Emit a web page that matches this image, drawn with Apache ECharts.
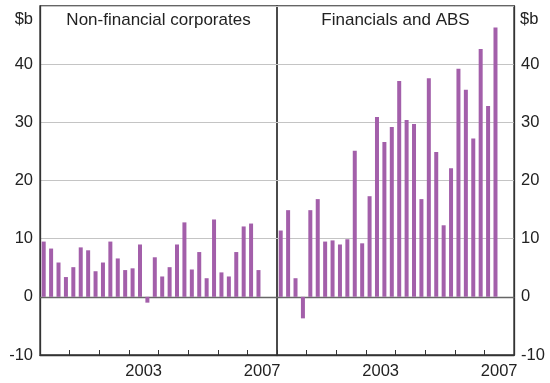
<!DOCTYPE html>
<html><head><meta charset="utf-8">
<script src="https://cdn.jsdelivr.net/npm/echarts@6/dist/echarts.min.js"></script>
<style>html,body{margin:0;padding:0;background:#fff}#c{width:550px;height:383px}</style>
</head><body><div id="c"></div>
<script>
const years = ['2000','2001','2002','2003','2004','2005','2006','2007'];
const yearLabels = ['2003','2007'];
const quarters = [];
years.forEach(y => ['Q1','Q2','Q3','Q4'].forEach(q => quarters.push(y + q)));
const nonFinancial = [9.5,8.3,5.9,3.4,5.1,8.5,8.0,4.4,5.9,9.5,6.6,4.6,4.9,9.0,-1.0,6.8,3.5,5.1,9.0,12.8,4.7,7.7,3.2,13.3,4.2,3.5,7.7,12.1,12.6,4.6];
const financialsABS = [11.4,14.9,3.2,-3.7,14.9,16.8,9.5,9.7,9.0,9.9,25.1,9.2,17.3,30.9,26.6,29.2,37.1,30.4,29.7,16.8,37.6,24.9,12.3,22.1,39.2,35.6,27.2,42.6,32.8,46.3];
const panelTitles = ['Non-financial corporates','Financials and ABS'];
const unit = '$b';

const FONT = 'Liberation Sans, Arial, sans-serif';
const TXT = '#222';
const BAR = '#A35FAA';
const FS = 16.5;

function yAx(gi, pos) {
  return {
    type:'value', gridIndex:gi, position:pos, min:-10, max:50, interval:10,
    axisLine:{show:true, lineStyle:{color:'#333', width:1.3}},
    axisTick:{show:false},
    axisLabel:{color:TXT, fontFamily:FONT, fontSize:FS, margin:7,
      formatter:v => v === 50 ? '' : String(v)},
    splitLine:{show:true, lineStyle:{color:'#c4c4c4', width:1}}
  };
}
function qAx(gi) {
  return {type:'category', gridIndex:gi, data:quarters, boundaryGap:true,
    axisLine:{show:true, onZero:true, lineStyle:{color:'#666', width:1.3}},
    axisTick:{show:false}, axisLabel:{show:false}, splitLine:{show:false}};
}
function yrAx(gi) {
  return {type:'category', gridIndex:gi, data:years, boundaryGap:true, position:'bottom',
    axisLine:{show:true, onZero:false, lineStyle:{color:'#333', width:1.3}},
    axisTick:{show:true, inside:true, length:5, lineStyle:{color:'#333', width:1}},
    axisLabel:{color:TXT, fontFamily:FONT, fontSize:FS, margin:8, interval:0,
      formatter:v => yearLabels.includes(v) ? v : ''},
    splitLine:{show:false}};
}

const chart = echarts.init(document.getElementById('c'), null, {renderer:'canvas'});
chart.setOption({
  animation:false,
  backgroundColor:'#fff',
  grid:[
    {left:40, right:273, top:6, bottom:28, show:true, borderColor:'#333', borderWidth:1.3, backgroundColor:'transparent'},
    {left:277, right:36, top:6, bottom:28, show:true, borderColor:'#333', borderWidth:1.3, backgroundColor:'transparent'}
  ],
  xAxis:[qAx(0), yrAx(0), qAx(1), yrAx(1)],
  yAxis:[yAx(0,'left'), yAx(1,'right')],
  series:[
    {type:'bar', xAxisIndex:0, yAxisIndex:0, data:nonFinancial, barWidth:4, itemStyle:{color:BAR}},
    {type:'bar', xAxisIndex:2, yAxisIndex:1, data:financialsABS, barWidth:4, itemStyle:{color:BAR}}
  ],
  graphic:[
    {type:'text', style:{text:panelTitles[0], font:'17px '+FONT, fill:TXT, textAlign:'center', textVerticalAlign:'middle'}, x:158.5, y:20},
    {type:'text', style:{text:panelTitles[1], font:'17px '+FONT, fill:TXT, textAlign:'center', textVerticalAlign:'middle'}, x:395.5, y:20},
    {type:'text', style:{text:unit, font:FS+'px '+FONT, fill:TXT, textAlign:'right', textVerticalAlign:'middle'}, x:33, y:19},
    {type:'text', style:{text:unit, font:FS+'px '+FONT, fill:TXT, textAlign:'left', textVerticalAlign:'middle'}, x:520, y:19}
  ]
});
</script></body></html>
